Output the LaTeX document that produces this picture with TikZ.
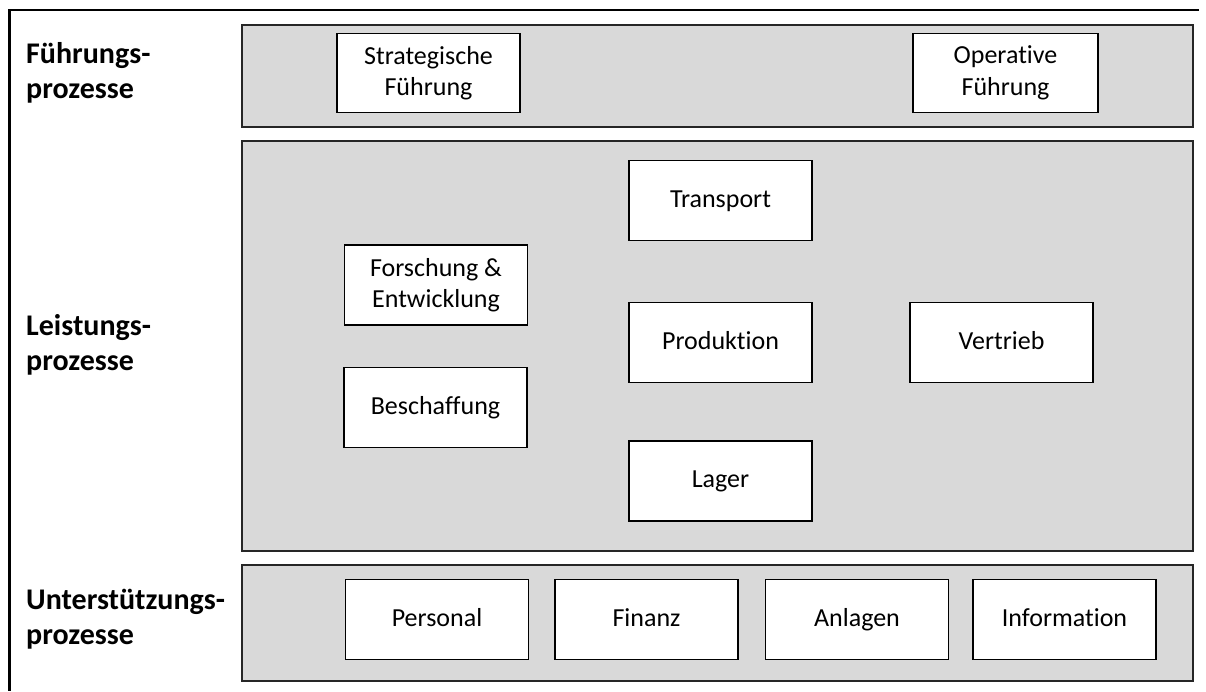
\documentclass[tikz,border=0pt]{standalone}
\usepackage{fontspec}
\setmainfont{Carlito}[Ligatures=NoCommon]
\definecolor{bandgray}{HTML}{D9D9D9}
\begin{document}
\begin{tikzpicture}[x=1pt,y=-1pt,
  band/.style={draw=black!85,line width=1.6pt,fill=bandgray,minimum width=951pt,inner sep=0pt},
  proc/.style={draw=black,line width=1.6pt,fill=white,minimum width=183pt,minimum height=80pt,
    inner sep=0pt,align=center,font=\fontsize{26}{31.5}\selectfont},
  oneline/.style={proc,text height=19pt,text depth=6pt},
  lane/.style={anchor=west,align=left,inner sep=0pt,font=\fontsize{30}{35}\selectfont\bfseries}]
  \useasboundingbox (0,0) rectangle (1206,691);
  % frame: top and left edges
  \coordinate (fTL) at (9.5,10);
  \coordinate (fTR) at (1199,10);
  \coordinate (fBL) at (9.5,691);
  \draw[line width=2.4pt] (fTR) -- (fTL) -- (fBL);

  % process bands
  \node[band,minimum height=102pt] (fuehrung) at (717.5,76) {};
  \node[band,minimum height=410pt] (leistung) at (717.5,346) {};
  \node[band,minimum height=116pt] (support) at (717.5,623) {};

  % lane titles
  \node[lane] (tF) at (26,73) {Führungs-\\prozesse};
  \node[lane] (tL) at (26,345) {Leistungs-\\prozesse};
  \node[lane] (tU) at (26,619) {Unterstützungs-\\prozesse};

  % management processes
  \node[proc,minimum height=79pt] (strat) at (428.5,73) {Strategische\\Führung};
  \node[proc,minimum height=79pt,minimum width=185pt] (oper) at (1005.5,73) {Operative\\Führung};

  % core processes
  \node[oneline] (transport) at (720.5,200.5) {Transport};
  \node[proc] (fue) at (436,285) {Forschung \&\\Entwicklung};
  \node[oneline] (produktion) at (720.5,342.5) {Produktion};
  \node[oneline] (vertrieb) at (1001.5,342.5) {Vertrieb};
  \node[oneline] (beschaffung) at (435.5,407.5) {Beschaffung};
  \node[oneline] (lager) at (720.5,481) {Lager};

  % support processes
  \node[oneline] (personal) at (437,619.5) {Personal};
  \node[oneline] (finanz) at (646.5,619.5) {Finanz};
  \node[oneline] (anlagen) at (857,619.5) {Anlagen};
  \node[oneline] (information) at (1064.5,619.5) {Information};
\end{tikzpicture}
\end{document}
